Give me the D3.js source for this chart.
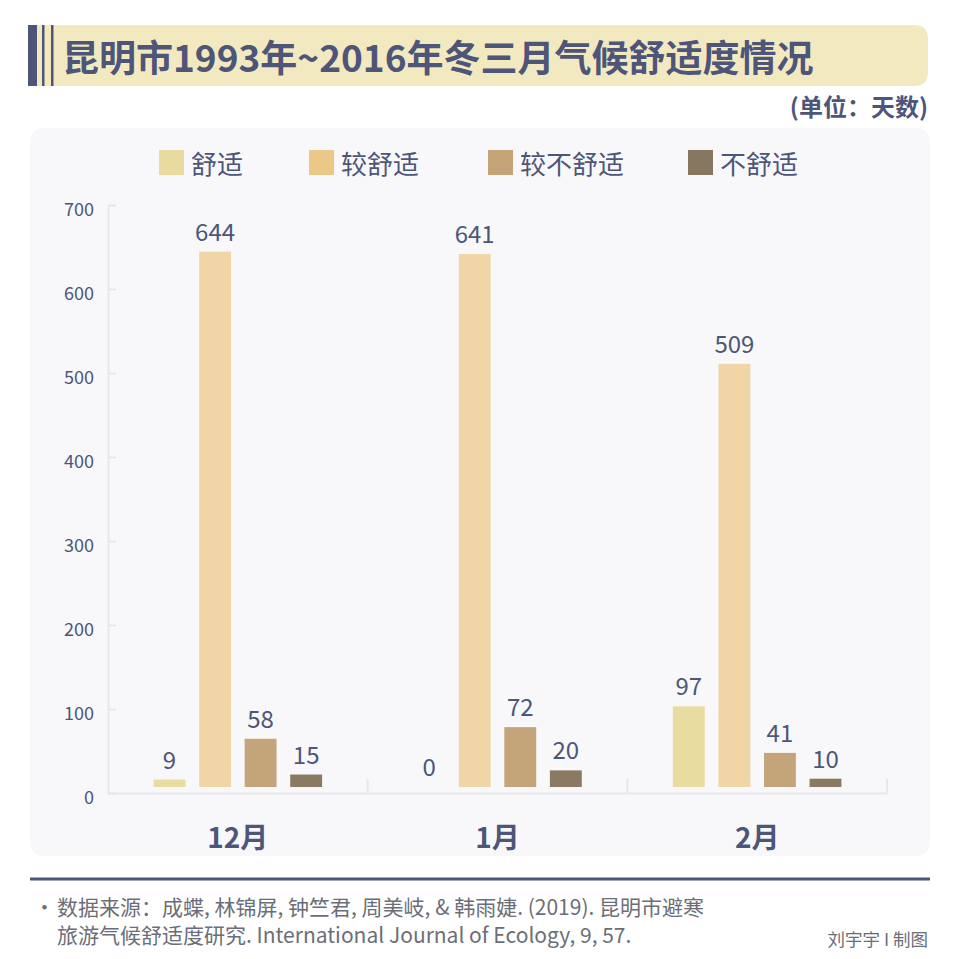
<!DOCTYPE html>
<html>
<head>
<meta charset="utf-8">
<script src="https://cdn.jsdelivr.net/npm/d3@7"></script>
<style>
  body { margin: 0; background: #ffffff; }
  svg text { font-family: "Noto Sans CJK SC", "Noto Sans", sans-serif; }
</style>
</head>
<body>
<div id="chart"></div>
<script>
// data
var months = ["12月", "1月", "2月"];
var seriesNames = ["舒适", "较舒适", "较不舒适", "不舒适"];
var comfortable = [9, 0, 97];
var fairlyComfortable = [644, 641, 509];
var fairlyUncomfortable = [58, 72, 41];
var uncomfortable = [15, 20, 10];
var yTicks = [0, 100, 200, 300, 400, 500, 600, 700];

var legendColors = ["#e9dba0", "#ecc888", "#c4a477", "#877761"];
var barColors = ["#e8dca0", "#f0d6a6", "#c4a57a", "#8a7a62"];
var slate = "#4d5679";

var seriesValues = [comfortable, fairlyComfortable, fairlyUncomfortable, uncomfortable];

// rows for the grouped bars
var rows = months.map(function (m, i) {
    return {
        month: m,
        values: seriesNames.map(function (s, j) {
            return { key: s, value: seriesValues[j][i], idx: j };
        })
    };
});

var svgWidth = 960, svgHeight = 959;

var svg = d3.select("#chart")
    .append("svg")
    .attr("width", svgWidth)
    .attr("height", svgHeight);

// title banner
var bx = 37, by = 25, bw = 891, bh = 61, br = 14;
svg.append("path")
    .attr("d", "M" + bx + "," + by +
        " H" + (bx + bw - br) +
        " Q" + (bx + bw) + "," + by + " " + (bx + bw) + "," + (by + br) +
        " V" + (by + bh - br) +
        " Q" + (bx + bw) + "," + (by + bh) + " " + (bx + bw - br) + "," + (by + bh) +
        " H" + bx + " Z")
    .attr("fill", "#f3e9c0");

svg.append("rect").attr("x", 28).attr("y", by).attr("width", 9).attr("height", bh).attr("fill", slate);
svg.append("rect").attr("x", 42).attr("y", by).attr("width", 2.5).attr("height", bh).attr("fill", slate);
svg.append("rect").attr("x", 51).attr("y", by).attr("width", 2.5).attr("height", bh).attr("fill", slate);

svg.append("text")
    .attr("x", 62)
    .attr("y", 56)
    .attr("dominant-baseline", "central")
    .attr("font-size", 37)
    .attr("font-weight", "bold")
    .attr("fill", slate)
    .text("昆明市1993年~2016年冬三月气候舒适度情况");

svg.append("text")
    .attr("x", 928)
    .attr("y", 105)
    .attr("text-anchor", "end")
    .attr("dominant-baseline", "central")
    .attr("font-size", 24)
    .attr("font-weight", "bold")
    .attr("fill", slate)
    .text("(单位：天数)");

// chart panel
svg.append("rect")
    .attr("x", 30)
    .attr("y", 128)
    .attr("width", 900)
    .attr("height", 728)
    .attr("rx", 14)
    .attr("fill", "#f8f8fa");

// legend
var legendX = [159, 309, 488, 688];
var legend = svg.append("g");
seriesNames.forEach(function (s, i) {
    legend.append("rect")
        .attr("x", legendX[i])
        .attr("y", 150)
        .attr("width", 25)
        .attr("height", 25)
        .attr("fill", legendColors[i]);
    legend.append("text")
        .attr("x", legendX[i] + 32)
        .attr("y", 162)
        .attr("dominant-baseline", "central")
        .attr("font-size", 26)
        .attr("fill", slate)
        .text(s);
});

// scales
var x0 = d3.scaleBand()
    .domain(months)
    .range([108, 887]);

var x1 = d3.scaleBand()
    .domain(seriesNames)
    .range([0, x0.bandwidth()])
    .paddingInner(0.3)
    .paddingOuter(1.0);

var yScale = d3.scaleLinear()
    .domain([0, 700])
    .range([793, 205]);

// bars sit a little above the axis line
var yBar = d3.scaleLinear()
    .domain([0, 700])
    .range([787, 205]);

// y axis
var yAxis = d3.axisRight(yScale)
    .tickValues(yTicks)
    .tickSize(8)
    .tickFormat("");

var yg = svg.append("g")
    .attr("transform", "translate(108,0)")
    .call(yAxis);
yg.selectAll("path, line").attr("stroke", "#e6e6ee").attr("stroke-width", 2);

svg.append("g").selectAll("text")
    .data(yTicks)
    .enter()
    .append("text")
    .attr("x", 94)
    .attr("y", function (d) { return yScale(d) + 3; })
    .attr("text-anchor", "end")
    .attr("dominant-baseline", "central")
    .attr("font-size", 18)
    .attr("fill", slate)
    .text(function (d) { return d; });

// x axis
var xAxis = d3.axisTop(x0)
    .tickValues([])
    .tickSizeOuter(0);

var xg = svg.append("g")
    .attr("transform", "translate(0,793)")
    .call(xAxis);
xg.selectAll("path").attr("stroke", "#e6e6ee").attr("stroke-width", 2);

// separators between month groups
xg.selectAll(".sep")
    .data(months)
    .enter()
    .append("line")
    .attr("x1", function (d) { return x0(d) + x0.bandwidth(); })
    .attr("x2", function (d) { return x0(d) + x0.bandwidth(); })
    .attr("y1", 0)
    .attr("y2", -14)
    .attr("stroke", "#e6e6ee")
    .attr("stroke-width", 2);

svg.append("g").selectAll("text")
    .data(months)
    .enter()
    .append("text")
    .attr("x", function (d) { return x0(d) + x0.bandwidth() / 2; })
    .attr("y", 836)
    .attr("text-anchor", "middle")
    .attr("dominant-baseline", "central")
    .attr("font-size", 28)
    .attr("font-weight", "bold")
    .attr("fill", slate)
    .text(function (d) { return d; });

// bars
var groups = svg.append("g").selectAll("g")
    .data(rows)
    .enter()
    .append("g")
    .attr("transform", function (d) { return "translate(" + x0(d.month) + ",0)"; });

groups.selectAll("rect")
    .data(function (d) { return d.values; })
    .enter()
    .append("rect")
    .attr("x", function (d) { return x1(d.key); })
    .attr("y", function (d) { return yBar(d.value); })
    .attr("width", x1.bandwidth())
    .attr("height", function (d) { return yBar(0) - yBar(d.value); })
    .attr("fill", function (d) { return barColors[d.idx]; });

groups.selectAll("text")
    .data(function (d) { return d.values; })
    .enter()
    .append("text")
    .attr("x", function (d) { return x1(d.key) + x1.bandwidth() / 2; })
    .attr("y", function (d) { return yBar(d.value) - 11; })
    .attr("text-anchor", "middle")
    .attr("font-size", 24)
    .attr("fill", slate)
    .text(function (d) { return d.value; });

// footer
svg.append("line")
    .attr("x1", 30)
    .attr("x2", 930)
    .attr("y1", 879)
    .attr("y2", 879)
    .attr("stroke", slate)
    .attr("stroke-width", 3);

var footGray = "#6b6e78";
svg.append("text")
    .attr("x", 55)
    .attr("y", 906)
    .attr("text-anchor", "end")
    .attr("dominant-baseline", "central")
    .attr("font-size", 21)
    .attr("fill", footGray)
    .text("·");

svg.append("text")
    .attr("x", 57)
    .attr("y", 906)
    .attr("dominant-baseline", "central")
    .attr("font-size", 21)
    .attr("fill", footGray)
    .text("数据来源：成蝶, 林锦屏, 钟竺君, 周美岐, & 韩雨婕. (2019). 昆明市避寒");

svg.append("text")
    .attr("x", 57)
    .attr("y", 934)
    .attr("dominant-baseline", "central")
    .attr("font-size", 21)
    .attr("fill", footGray)
    .text("旅游气候舒适度研究. International Journal of Ecology, 9, 57.");

svg.append("text")
    .attr("x", 928)
    .attr("y", 938)
    .attr("text-anchor", "end")
    .attr("dominant-baseline", "central")
    .attr("font-size", 17.5)
    .attr("fill", footGray)
    .text("刘宇宇 I 制图");
</script>
</body>
</html>
